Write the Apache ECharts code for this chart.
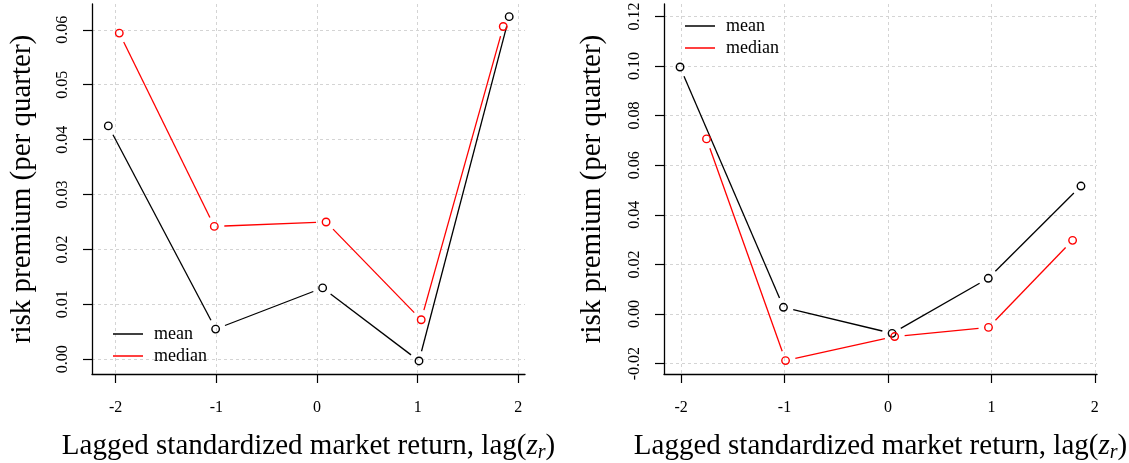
<!DOCTYPE html>
<html>
<head>
<meta charset="utf-8">
<script src="https://cdn.jsdelivr.net/npm/echarts@6/dist/echarts.min.js"></script>
<style>
  html, body { margin: 0; padding: 0; background: #fff; }
  #chart { width: 1129px; height: 463px; }
</style>
</head>
<body>
<div id="chart"></div>
<script>
// left panel
const leftMeanX = [-2.073, -1.007, 0.056, 1.013, 1.909];
const leftMeanY = [0.0425, 0.0055, 0.0130, -0.0003, 0.0624];
const leftMedianX = [-1.964, -1.020, 0.090, 1.035, 1.850];
const leftMedianY = [0.0594, 0.0242, 0.0250, 0.0072, 0.0606];

// right panel
const rightMeanX = [-2.010, -1.010, 0.040, 0.970, 1.866];
const rightMeanY = [0.0996, 0.0027, -0.0078, 0.0144, 0.0516];
const rightMedianX = [-1.754, -0.990, 0.065, 0.972, 1.785];
const rightMedianY = [0.0706, -0.0188, -0.0091, -0.0054, 0.0297];

const xTicks = [-2, -1, 0, 1, 2];
const leftYTicks = [0, 0.01, 0.02, 0.03, 0.04, 0.05, 0.06];
const rightYTicks = [-0.02, 0, 0.02, 0.04, 0.06, 0.08, 0.10, 0.12];

const serif = '"Liberation Serif", "DejaVu Serif", serif';
const chart = echarts.init(document.getElementById('chart'));

function pairs(xs, ys) {
  return xs.map((x, i) => [x, ys[i]]);
}
function segments(xs, ys) {
  const out = [];
  for (let i = 0; i < xs.length - 1; i++) out.push([xs[i], ys[i], xs[i + 1], ys[i + 1]]);
  return out;
}

// R type="b": lines stop short of the points
function gapLine(color) {
  return function (params, api) {
    const p0 = api.coord([api.value(0), api.value(1)]);
    const p1 = api.coord([api.value(2), api.value(3)]);
    const dx = p1[0] - p0[0], dy = p1[1] - p0[1];
    const len = Math.hypot(dx, dy);
    const g = 10;
    if (len <= 2 * g) return;
    const ux = dx / len, uy = dy / len;
    return {
      type: 'line',
      shape: { x1: p0[0] + ux * g, y1: p0[1] + uy * g, x2: p1[0] - ux * g, y2: p1[1] - uy * g },
      style: { stroke: color, lineWidth: 1.3 }
    };
  };
}

function lineSeries(name, color, idx, xs, ys) {
  return {
    name: name, type: 'custom', xAxisIndex: idx, yAxisIndex: idx,
    itemStyle: { color: color },
    renderItem: gapLine(color),
    data: segments(xs, ys),
    silent: true
  };
}
function pointSeries(color, idx, xs, ys) {
  return {
    type: 'scatter', xAxisIndex: idx, yAxisIndex: idx,
    symbol: 'circle', symbolSize: 7.5,
    itemStyle: { color: 'rgba(0,0,0,0)', borderColor: color, borderWidth: 1.4, opacity: 1 },
    data: pairs(xs, ys),
    z: 5
  };
}

const xTitle = 'Lagged standardized market return, lag({i|z}{s|r})';
const titleRich = {
  i: { fontFamily: serif, fontSize: 29, fontStyle: 'italic', color: '#000' },
  s: { fontFamily: serif, fontSize: 20, fontStyle: 'italic', color: '#000', padding: [13, 0, 0, 0] }
};

function xAxis(idx, min, max) {
  return {
    type: 'value', gridIndex: idx, min: min, max: max,
    name: xTitle, nameLocation: 'middle', nameGap: 56,
    nameTextStyle: { fontFamily: serif, fontSize: 29, color: '#000', rich: titleRich },
    axisLine: { onZero: false, lineStyle: { color: '#000', width: 1.3 } },
    axisTick: { customValues: xTicks, length: 9, lineStyle: { color: '#000', width: 1.2 } },
    axisLabel: { customValues: xTicks, margin: 26, fontFamily: serif, fontSize: 16, color: '#000',
      formatter: v => String(Math.round(v)) },
    splitLine: { show: true, lineStyle: { color: '#d4d4d4', type: [3, 3], width: 1 } }
  };
}
function yAxis(idx, min, max, ticks, gap) {
  return {
    type: 'value', gridIndex: idx, min: min, max: max,
    name: 'risk premium (per quarter)', nameLocation: 'middle', nameGap: gap,
    nameTextStyle: { fontFamily: serif, fontSize: 29, color: '#000' },
    axisLine: { show: true, onZero: false, lineStyle: { color: '#000', width: 1.3 } },
    axisTick: { show: true, customValues: ticks, length: 9, lineStyle: { color: '#000', width: 1.2 } },
    axisLabel: { customValues: ticks, rotate: 90, margin: 21, fontFamily: serif, fontSize: 16, color: '#000',
      formatter: v => v.toFixed(2) },
    splitLine: { show: true, lineStyle: { color: '#d4d4d4', type: [3, 3], width: 1 } }
  };
}
function legend(left, top) {
  return {
    left: left, top: top, orient: 'vertical',
    data: ['mean', 'median'],
    icon: 'rect', itemWidth: 30, itemHeight: 1.5, itemGap: 0,
    textStyle: { fontFamily: serif, fontSize: 18, color: '#000', lineHeight: 22, padding: [0, 0, 0, 6] },
    selectedMode: false
  };
}

chart.setOption({
  animation: false,
  backgroundColor: '#fff',
  grid: [
    { left: 92, top: 4, width: 433, height: 370, outerBoundsMode: 'none', containLabel: false },
    { left: 664, top: 4, width: 433, height: 370, outerBoundsMode: 'none', containLabel: false }
  ],
  xAxis: [xAxis(0, -2.235, 2.066), xAxis(1, -2.165, 2.021)],
  yAxis: [yAxis(0, -0.00268, 0.0647, leftYTicks, 55), yAxis(1, -0.0242, 0.125, rightYTicks, 57)],
  legend: [legend(108, 318), legend(680, 10)],
  series: [
    lineSeries('mean', '#000', 0, leftMeanX, leftMeanY),
    lineSeries('median', '#ff0000', 0, leftMedianX, leftMedianY),
    pointSeries('#000', 0, leftMeanX, leftMeanY),
    pointSeries('#ff0000', 0, leftMedianX, leftMedianY),
    lineSeries('mean', '#000', 1, rightMeanX, rightMeanY),
    lineSeries('median', '#ff0000', 1, rightMedianX, rightMedianY),
    pointSeries('#000', 1, rightMeanX, rightMeanY),
    pointSeries('#ff0000', 1, rightMedianX, rightMedianY)
  ]
});
</script>
</body>
</html>
